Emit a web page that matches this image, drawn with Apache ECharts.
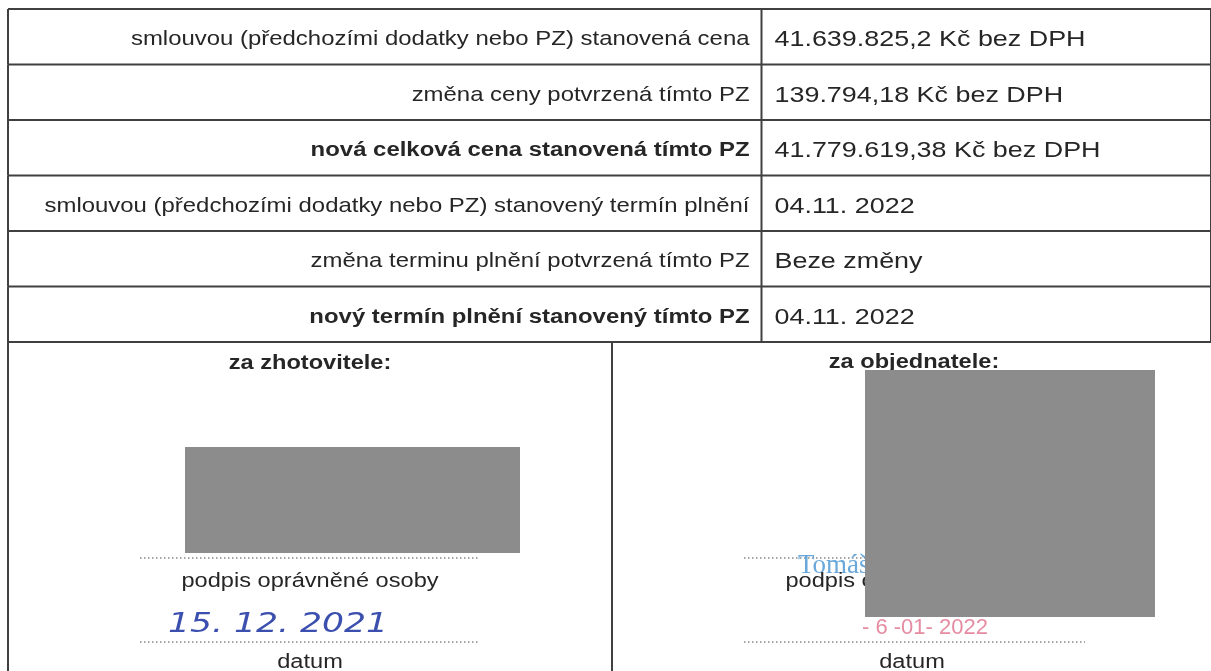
<!DOCTYPE html>
<html>
<head>
<meta charset="utf-8">
<script src="https://cdn.jsdelivr.net/npm/echarts@6.0.0/dist/echarts.min.js"></script>
<style>html,body{margin:0;padding:0;background:#fff}#c{width:1211px;height:671px}</style>
</head>
<body>
<div id="c"></div>
<script>
// ---- data ----
const rowLabels = [
  'smlouvou (předchozími dodatky nebo PZ) stanovená cena',
  'změna ceny potvrzená tímto PZ',
  'nová celková cena stanovená tímto PZ',
  'smlouvou (předchozími dodatky nebo PZ) stanovený termín plnění',
  'změna terminu plnění potvrzená tímto PZ',
  'nový termín plnění stanovený tímto PZ'
];
const rowValues = [
  '41.639.825,2 Kč bez DPH',
  '139.794,18 Kč bez DPH',
  '41.779.619,38 Kč bez DPH',
  '04.11. 2022',
  'Beze změny',
  '04.11. 2022'
];
const boldRows = [false, false, true, false, false, true];
const signHeads = ['za zhotovitele:', 'za objednatele:'];
const signLabel = 'podpis oprávněné osoby';
const dateLabel = 'datum';
const leftDate = '15. 12. 2021';
const rightName = 'Tomáš';
const rightStamp = '- 6 -01- 2022';

// ---- layout ----
const FONT = 'Liberation Sans, Arial, sans-serif';
const SX = 1.18;
const LINE = '#404040';
const INK = '#262626';
const T_LEFT = 8, T_RIGHT = 1215, T_TOP = 9, ROW_H = 55.5;
const DIV = 764, LOW_DIV = 612;
const T_BOT = T_TOP + ROW_H * rowLabels.length;

function txt(x, y, text, size, opts) {
  opts = opts || {};
  return {
    type: 'text', x: x, y: y, scaleX: opts.sx || SX, z: opts.z || 5,
    style: {
      text: text, fontSize: size, fontFamily: opts.family || FONT,
      fontWeight: opts.bold ? 'bold' : 'normal', fontStyle: opts.italic ? 'italic' : 'normal',
      fill: opts.color || INK,
      textAlign: opts.align || 'center', align: opts.align || 'center',
      textVerticalAlign: 'middle', verticalAlign: 'middle'
    }
  };
}
function line(x1, y1, x2, y2, opts) {
  opts = opts || {};
  return {
    type: 'line', z: opts.z || 4,
    shape: { x1: x1, y1: y1, x2: x2, y2: y2 },
    style: { stroke: opts.color || LINE, lineWidth: opts.w || 2, lineDash: opts.dash || null }
  };
}

const graphics = [];
// lower section frame
graphics.push(line(T_LEFT, T_BOT, T_LEFT, 700));
graphics.push(line(LOW_DIV, T_BOT, LOW_DIV, 700));
graphics.push(line(T_RIGHT, T_BOT, T_RIGHT, 700));
// left signature cell
const cL = (T_LEFT + LOW_DIV) / 2;
graphics.push(txt(cL, 363, signHeads[0], 20, { bold: true }));
graphics.push({ type: 'rect', z: 6, shape: { x: 185, y: 447, width: 335, height: 106 }, style: { fill: '#8c8c8c' } });
graphics.push(line(140, 558, 478, 558, { color: '#888', w: 1.5, dash: [1.5, 2.5] }));
graphics.push(txt(cL, 581, signLabel, 20));
graphics.push(txt(168, 625, leftDate, 26, { italic: true, align: 'left', color: '#3b4fae', family: 'DejaVu Sans', sx: 1.33 }));
graphics.push(line(140, 642, 478, 642, { color: '#888', w: 1.5, dash: [1.5, 2.5] }));
graphics.push(txt(cL, 662, dateLabel, 20));
// right signature cell
const cR = 914;
graphics.push(txt(cR, 362, signHeads[1], 20, { bold: true }));
graphics.push(line(744, 558, 1085, 558, { color: '#888', w: 1.5, dash: [1.5, 2.5] }));
graphics.push(txt(798, 566, rightName, 27, { align: 'left', color: '#6aa8dc', family: 'Liberation Serif', sx: 1.0 }));
graphics.push(txt(cR, 581, signLabel, 20));
graphics.push(txt(862, 628, rightStamp, 22, { align: 'left', color: '#e58ca2', family: 'Liberation Sans Narrow, Liberation Sans', sx: 1.0 }));
graphics.push({ type: 'rect', z: 6, shape: { x: 865, y: 370, width: 290, height: 247 }, style: { fill: '#8c8c8c' } });
graphics.push(line(744, 642, 1085, 642, { color: '#888', w: 1.5, dash: [1.5, 2.5] }));
graphics.push(txt(912, 662, dateLabel, 20));

const chart = echarts.init(document.getElementById('c'), null, { renderer: 'canvas' });
chart.setOption({
  backgroundColor: '#ffffff',
  animation: false,
  grid: { left: T_LEFT, top: T_TOP, width: T_RIGHT - T_LEFT, height: ROW_H * rowLabels.length },
  xAxis: { type: 'value', min: 0, max: T_RIGHT - T_LEFT, show: false },
  yAxis: { type: 'category', data: rowLabels, inverse: true, show: false },
  series: [{
    type: 'custom',
    coordinateSystem: 'cartesian2d',
    encode: { x: 0, y: 1 },
    data: rowLabels.map((l, i) => [0, i]),
    renderItem: function (params, api) {
      const i = api.value(1);
      const c0 = api.coord([0, i]);
      const c1 = api.coord([T_RIGHT - T_LEFT, i]);
      const cd = api.coord([DIV - T_LEFT, i]);
      const h = api.size([0, 1])[1];
      const top = c0[1] - h / 2, bot = c0[1] + h / 2, mid = c0[1] + 3;
      const kids = [
        line(c0[0], bot, c1[0], bot),
        line(c0[0], top, c0[0], bot),
        line(cd[0], top, cd[0], bot),
        line(c1[0], top, c1[0], bot),
        txt(cd[0] - 12, mid, rowLabels[i], 20.3, { align: 'right', bold: boldRows[i] }),
        txt(cd[0] + 13, mid, rowValues[i], 22.8, { align: 'left' })
      ];
      if (i === 0) kids.push(line(c0[0], top, c1[0], top));
      return { type: 'group', children: kids };
    }
  }],
  graphic: { elements: graphics }
});
</script>
</body>
</html>
